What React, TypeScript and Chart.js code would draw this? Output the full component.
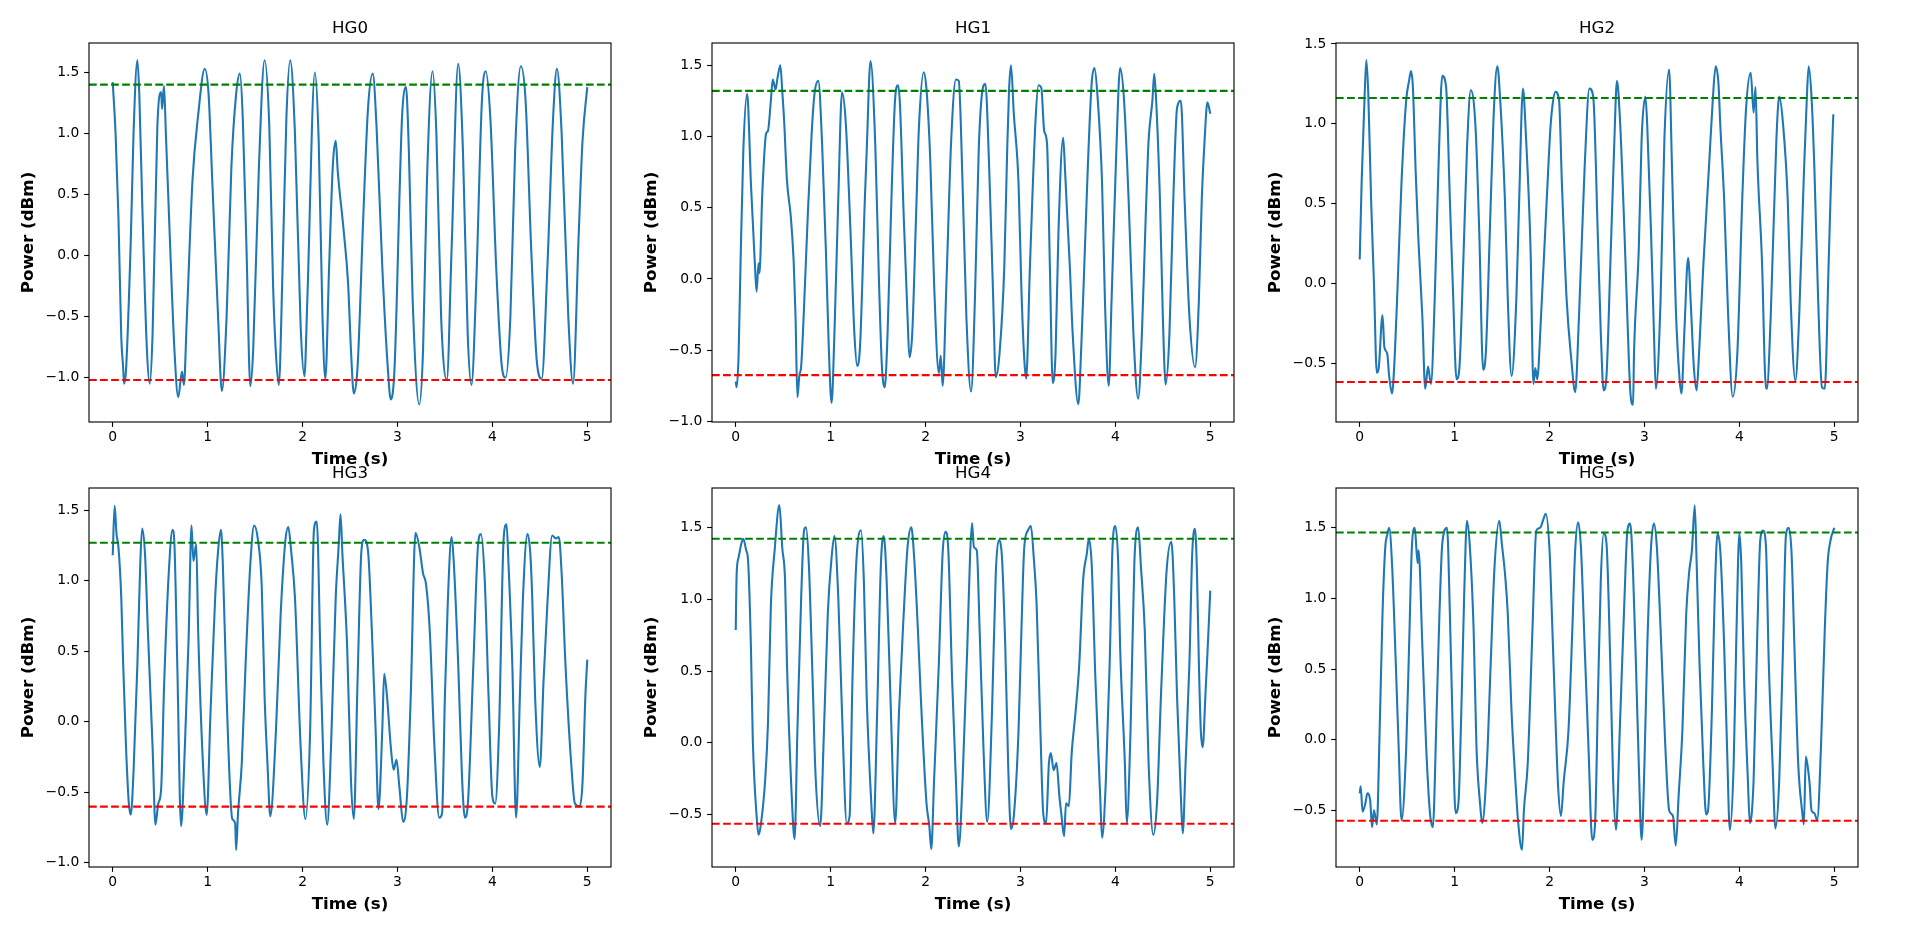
import React, { useEffect, useRef } from "react";
import { Chart, registerables } from "chart.js";

Chart.register(...registerables);
Chart.defaults.font.family = "'DejaVu Sans', sans-serif";
Chart.defaults.color = "#000";

type Pt = [number, number];

// ---------------- data ----------------
const panelTitles = ["HG0", "HG1", "HG2", "HG3", "HG4", "HG5"];
const timeTicks = [0, 1, 2, 3, 4, 5];
const timeLimits = [-0.25, 5.25];

const ticksA = [-1.0, -0.5, 0.0, 0.5, 1.0, 1.5];
const ticksB = [-0.5, 0.0, 0.5, 1.0, 1.5];
const powerTicks = [ticksA, ticksA, ticksB, ticksA, ticksB, ticksB];
const powerLimits = [
  [-1.364, 1.741],
  [-1.004, 1.656],
  [-0.868, 1.506],
  [-1.03, 1.657],
  [-0.864, 1.774],
  [-0.902, 1.782],
];
const upperLevels = [1.4, 1.32, 1.162, 1.269, 1.421, 1.467];
const lowerLevels = [-1.02, -0.675, -0.617, -0.602, -0.5625, -0.575];

const hg0: Pt[] = [
  [0, 1.42], [0.03, 1.0], [0.06, 0.32], [0.09, -0.67], [0.11, -0.92], [0.12, -1.05], [0.14, -0.94], [0.19, 0.12],
  [0.22, 1.02], [0.26, 1.6], [0.28, 1.32], [0.31, 0.45], [0.36, -0.77], [0.39, -1.05], [0.42, -0.64], [0.47, 1.05],
  [0.51, 1.34], [0.52, 1.2], [0.54, 1.39], [0.56, 1.0], [0.6, 0.18], [0.65, -0.77], [0.69, -1.16], [0.73, -0.95],
  [0.75, -1.06], [0.78, -0.53], [0.84, 0.61], [0.9, 1.15], [0.97, 1.53], [1.01, 1.32], [1.05, 0.59], [1.11, -0.5],
  [1.15, -1.11], [1.2, -0.5], [1.25, 0.72], [1.3, 1.32], [1.34, 1.49], [1.37, 1.13], [1.41, 0.04], [1.45, -1.07],
  [1.48, -0.77], [1.54, 0.72], [1.6, 1.6], [1.65, 1.05], [1.69, -0.26], [1.72, -0.81], [1.75, -1.06], [1.79, -0.09],
  [1.83, 1.13], [1.87, 1.6], [1.92, 1.0], [1.98, -0.58], [2.02, -0.99], [2.05, -0.37], [2.13, 1.5], [2.17, 0.94],
  [2.21, -0.5], [2.24, -1.01], [2.28, -0.09], [2.32, 0.75], [2.35, 0.94], [2.37, 0.7], [2.43, 0.23], [2.48, -0.23],
  [2.51, -0.77], [2.54, -1.13], [2.58, -0.91], [2.64, 0.32], [2.69, 1.21], [2.74, 1.49], [2.78, 1.05], [2.84, -0.09],
  [2.9, -0.94], [2.93, -1.18], [2.97, -0.91], [3.03, 0.72], [3.05, 1.16], [3.09, 1.38], [3.12, 0.86], [3.16, -0.36],
  [3.23, -1.22], [3.27, -0.77], [3.31, 0.59], [3.37, 1.51], [3.41, 1.0], [3.46, -0.5], [3.52, -1.02], [3.57, 0.04],
  [3.64, 1.57], [3.69, 0.86], [3.74, -0.64], [3.78, -1.06], [3.83, -0.23], [3.89, 1.27], [3.93, 1.51], [3.98, 1.11],
  [4.04, -0.09], [4.1, -0.91], [4.14, -1.0], [4.19, -0.5], [4.24, 0.86], [4.3, 1.55], [4.35, 1.27], [4.41, 0.04],
  [4.47, -0.88], [4.52, -1.01], [4.58, -0.09], [4.64, 1.13], [4.68, 1.53], [4.73, 1.0], [4.8, -0.5], [4.85, -1.05],
  [4.91, 0.18], [4.95, 0.94], [5.0, 1.38],
];

const hg1: Pt[] = [
  [0, -0.72], [0.01, -0.76], [0.03, -0.54], [0.05, 0.09], [0.08, 0.9], [0.12, 1.3], [0.13, 1.23], [0.16, 0.67],
  [0.2, 0.13], [0.22, -0.09], [0.24, 0.11], [0.25, 0.04], [0.28, 0.6], [0.32, 1.02], [0.34, 1.04], [0.37, 1.25],
  [0.39, 1.4], [0.42, 1.33], [0.44, 1.41], [0.47, 1.5], [0.49, 1.32], [0.51, 1.11], [0.54, 0.69], [0.58, 0.44],
  [0.61, 0.13], [0.63, -0.26], [0.65, -0.83], [0.67, -0.68], [0.69, -0.61], [0.73, -0.03], [0.76, 0.46], [0.8, 1.02],
  [0.83, 1.3], [0.87, 1.39], [0.91, 0.95], [0.95, 0.2], [0.98, -0.47], [1.01, -0.87], [1.04, -0.38], [1.08, 0.55],
  [1.12, 1.31], [1.16, 1.09], [1.21, 0.32], [1.25, -0.38], [1.28, -0.61], [1.31, -0.47], [1.36, 0.55], [1.38, 0.9],
  [1.42, 1.53], [1.47, 0.95], [1.51, -0.03], [1.54, -0.61], [1.57, -0.76], [1.6, -0.38], [1.64, 0.55], [1.68, 1.27],
  [1.71, 1.36], [1.73, 1.23], [1.77, 0.44], [1.81, -0.26], [1.83, -0.55], [1.86, -0.38], [1.9, 0.44], [1.93, 1.06],
  [1.98, 1.45], [2.01, 1.33], [2.05, 0.83], [2.09, -0.03], [2.14, -0.66], [2.16, -0.54], [2.18, -0.75], [2.22, -0.03],
  [2.27, 0.97], [2.32, 1.4], [2.35, 1.39], [2.39, 0.67], [2.43, -0.26], [2.48, -0.79], [2.52, -0.15], [2.56, 0.9],
  [2.59, 1.27], [2.63, 1.37], [2.67, 0.79], [2.71, -0.07], [2.74, -0.69], [2.78, -0.52], [2.83, 0.09], [2.86, 0.9],
  [2.88, 1.33], [2.9, 1.5], [2.93, 1.16], [2.98, 0.67], [3.01, -0.07], [3.04, -0.56], [3.06, -0.7], [3.1, 0.09],
  [3.16, 1.13], [3.19, 1.36], [3.22, 1.34], [3.25, 1.04], [3.28, 0.95], [3.31, 0.09], [3.34, -0.73], [3.37, -0.52],
  [3.4, 0.32], [3.45, 0.99], [3.47, 0.76], [3.49, 0.48], [3.52, 0.09], [3.55, -0.38], [3.61, -0.88], [3.64, -0.49],
  [3.67, 0.04], [3.71, 0.79], [3.75, 1.37], [3.78, 1.48], [3.81, 1.3], [3.86, 0.67], [3.89, -0.15], [3.93, -0.75],
  [3.96, -0.15], [4.01, 0.9], [4.05, 1.48], [4.09, 1.27], [4.14, 0.55], [4.19, -0.38], [4.24, -0.84], [4.28, -0.38],
  [4.32, 0.44], [4.35, 0.97], [4.39, 1.25], [4.41, 1.44], [4.43, 1.25], [4.47, 0.55], [4.5, -0.26], [4.53, -0.74],
  [4.57, -0.38], [4.61, 0.55], [4.65, 1.2], [4.69, 1.25], [4.73, 0.55], [4.78, -0.26], [4.84, -0.62], [4.88, -0.15],
  [4.91, 0.55], [4.94, 0.97], [4.97, 1.24], [5.0, 1.16],
];

const hg2: Pt[] = [
  [0, 0.15], [0.02, 0.63], [0.05, 1.15], [0.07, 1.4], [0.09, 1.19], [0.12, 0.52], [0.15, 0.0], [0.18, -0.56],
  [0.2, -0.53], [0.24, -0.2], [0.26, -0.4], [0.29, -0.44], [0.31, -0.58], [0.34, -0.69], [0.37, -0.44], [0.4, 0.0],
  [0.44, 0.63], [0.49, 1.15], [0.52, 1.27], [0.54, 1.33], [0.56, 1.23], [0.59, 0.69], [0.62, 0.25], [0.66, -0.21],
  [0.69, -0.66], [0.72, -0.52], [0.75, -0.63], [0.79, -0.1], [0.83, 0.73], [0.87, 1.3], [0.91, 1.23], [0.95, 0.52],
  [0.98, 0.0], [1.02, -0.6], [1.05, -0.53], [1.09, 0.11], [1.13, 0.84], [1.17, 1.21], [1.22, 0.98], [1.26, 0.31],
  [1.3, -0.54], [1.33, -0.42], [1.37, 0.31], [1.41, 1.04], [1.45, 1.36], [1.48, 1.15], [1.53, 0.52], [1.56, -0.1],
  [1.6, -0.58], [1.65, -0.1], [1.68, 0.52], [1.72, 1.22], [1.75, 0.94], [1.8, 0.21], [1.83, -0.63], [1.85, -0.53],
  [1.87, -0.6], [1.91, -0.21], [1.97, 0.52], [2.01, 0.98], [2.03, 1.11], [2.06, 1.2], [2.1, 1.15], [2.13, 0.63],
  [2.18, -0.1], [2.23, -0.48], [2.27, -0.68], [2.31, -0.21], [2.37, 0.73], [2.42, 1.22], [2.46, 1.17], [2.51, 0.27],
  [2.54, -0.31], [2.57, -0.67], [2.6, -0.58], [2.64, 0.11], [2.68, 0.84], [2.71, 1.27], [2.74, 1.05], [2.79, 0.31],
  [2.82, -0.21], [2.85, -0.67], [2.88, -0.76], [2.89, -0.44], [2.94, 0.21], [2.97, 0.9], [3.01, 1.17], [3.03, 0.98],
  [3.07, 0.31], [3.1, -0.31], [3.12, -0.66], [3.17, -0.1], [3.21, 0.9], [3.26, 1.34], [3.29, 0.73], [3.33, -0.15],
  [3.37, -0.6], [3.39, -0.69], [3.42, -0.31], [3.46, 0.16], [3.49, -0.15], [3.52, -0.52], [3.55, -0.67], [3.57, -0.5],
  [3.62, 0.11], [3.68, 0.73], [3.72, 1.15], [3.75, 1.36], [3.78, 1.25], [3.8, 0.98], [3.84, 0.52], [3.88, -0.17],
  [3.93, -0.71], [3.98, -0.42], [4.03, 0.52], [4.07, 1.09], [4.12, 1.32], [4.15, 1.07], [4.17, 1.23], [4.19, 0.77],
  [4.24, 0.11], [4.27, -0.56], [4.29, -0.66], [4.33, -0.21], [4.39, 0.9], [4.42, 1.17], [4.46, 1.0], [4.51, 0.52],
  [4.54, -0.1], [4.59, -0.61], [4.63, -0.21], [4.68, 0.69], [4.71, 1.15], [4.73, 1.36], [4.76, 1.17], [4.79, 0.73],
  [4.83, -0.1], [4.87, -0.65], [4.9, -0.66], [4.94, 0.11], [4.97, 0.73], [4.99, 1.06],
];

const hg3: Pt[] = [
  [0, 1.18], [0.02, 1.53], [0.04, 1.33], [0.06, 1.24], [0.09, 0.88], [0.11, 0.41], [0.14, -0.18], [0.17, -0.58],
  [0.19, -0.66], [0.22, -0.34], [0.26, 0.41], [0.29, 1.12], [0.31, 1.37], [0.34, 1.19], [0.37, 0.65], [0.42, -0.18],
  [0.45, -0.73], [0.48, -0.58], [0.51, -0.48], [0.54, 0.23], [0.59, 1.05], [0.63, 1.36], [0.65, 1.26], [0.68, 0.41],
  [0.72, -0.74], [0.76, -0.18], [0.8, 0.6], [0.83, 1.39], [0.85, 1.14], [0.88, 1.26], [0.9, 0.65], [0.95, -0.29],
  [0.99, -0.66], [1.03, 0.06], [1.08, 0.89], [1.11, 1.21], [1.14, 1.36], [1.16, 1.12], [1.2, 0.18], [1.24, -0.53],
  [1.26, -0.69], [1.29, -0.72], [1.3, -0.91], [1.32, -0.65], [1.36, -0.29], [1.4, 0.41], [1.45, 1.12], [1.49, 1.39],
  [1.53, 1.29], [1.57, 0.96], [1.6, 0.18], [1.63, -0.29], [1.66, -0.67], [1.72, -0.06], [1.77, 0.77], [1.82, 1.29],
  [1.85, 1.38], [1.88, 1.21], [1.92, 0.88], [1.98, -0.18], [2.03, -0.69], [2.08, -0.06], [2.12, 1.36], [2.15, 1.42],
  [2.19, 0.41], [2.22, -0.29], [2.26, -0.73], [2.3, -0.18], [2.35, 0.89], [2.38, 1.24], [2.4, 1.47], [2.42, 1.19],
  [2.47, 0.53], [2.51, -0.41], [2.54, -0.69], [2.58, 0.3], [2.62, 1.21], [2.65, 1.29], [2.69, 1.21], [2.73, 0.65],
  [2.77, -0.06], [2.8, -0.62], [2.84, -0.06], [2.86, 0.34], [2.89, 0.18], [2.93, -0.18], [2.96, -0.34], [2.99, -0.27],
  [3.02, -0.46], [3.06, -0.71], [3.1, -0.53], [3.14, 0.18], [3.19, 1.34], [3.23, 1.24], [3.27, 1.05], [3.3, 0.98],
  [3.34, 0.65], [3.39, -0.18], [3.44, -0.68], [3.47, -0.65], [3.5, 0.18], [3.53, 0.84], [3.57, 1.31], [3.59, 1.17],
  [3.64, 0.41], [3.68, -0.39], [3.71, -0.68], [3.74, -0.6], [3.8, 0.41], [3.85, 1.26], [3.88, 1.33], [3.92, 1.0],
  [3.96, 0.18], [4.0, -0.53], [4.03, -0.58], [4.07, -0.06], [4.12, 1.31], [4.15, 1.4], [4.17, 1.12], [4.21, 0.41],
  [4.25, -0.68], [4.29, 0.18], [4.32, 0.84], [4.37, 1.33], [4.4, 1.19], [4.42, 0.88], [4.45, 0.18], [4.5, -0.32],
  [4.54, 0.3], [4.58, 0.84], [4.63, 1.32], [4.67, 1.3], [4.7, 1.31], [4.73, 1.05], [4.77, 0.41], [4.83, -0.29],
  [4.87, -0.58], [4.92, -0.6], [4.95, -0.43], [4.98, 0.18], [5.0, 0.44],
];

const hg4: Pt[] = [
  [0, 0.785], [0.01, 1.18], [0.03, 1.29], [0.06, 1.39], [0.08, 1.42], [0.11, 1.34], [0.13, 1.27], [0.16, 0.67],
  [0.18, 0.02], [0.22, -0.51], [0.24, -0.64], [0.26, -0.59], [0.31, -0.26], [0.34, 0.14], [0.37, 0.95], [0.41, 1.34],
  [0.46, 1.655], [0.49, 1.36], [0.52, 1.13], [0.54, 0.55], [0.59, -0.37], [0.62, -0.67], [0.65, 0.09], [0.69, 1.02],
  [0.72, 1.48], [0.74, 1.5], [0.77, 1.25], [0.81, 0.44], [0.84, -0.21], [0.89, -0.58], [0.93, 0.09], [0.97, 0.9],
  [1.01, 1.29], [1.04, 1.44], [1.08, 1.02], [1.12, 0.21], [1.17, -0.56], [1.2, -0.51], [1.23, 0.44], [1.27, 1.25],
  [1.32, 1.48], [1.35, 1.13], [1.38, 0.32], [1.43, -0.44], [1.45, -0.63], [1.49, 0.21], [1.53, 1.25], [1.56, 1.44],
  [1.59, 1.13], [1.63, 0.32], [1.68, -0.56], [1.72, 0.21], [1.77, 0.9], [1.81, 1.36], [1.85, 1.5], [1.88, 1.29],
  [1.92, 0.78], [1.95, 0.32], [2.01, -0.42], [2.04, -0.58], [2.06, -0.74], [2.09, -0.26], [2.14, 0.55], [2.18, 1.32],
  [2.21, 1.47], [2.24, 1.34], [2.28, 0.44], [2.32, -0.26], [2.35, -0.72], [2.39, -0.26], [2.44, 0.67], [2.47, 1.32],
  [2.49, 1.53], [2.51, 1.36], [2.54, 1.34], [2.57, 0.78], [2.61, -0.03], [2.65, -0.55], [2.7, 0.21], [2.74, 1.18],
  [2.77, 1.41], [2.8, 1.34], [2.84, 0.67], [2.87, -0.14], [2.9, -0.6], [2.93, -0.51], [2.98, 0.09], [3.01, 0.78],
  [3.04, 1.36], [3.08, 1.48], [3.11, 1.51], [3.14, 1.29], [3.17, 0.97], [3.21, 0.09], [3.24, -0.49], [3.27, -0.56],
  [3.3, -0.14], [3.32, -0.07], [3.35, -0.19], [3.38, -0.14], [3.41, -0.37], [3.43, -0.49], [3.46, -0.65], [3.48, -0.42],
  [3.51, -0.44], [3.54, -0.07], [3.58, 0.21], [3.62, 0.55], [3.66, 1.13], [3.7, 1.32], [3.72, 1.42], [3.75, 1.25],
  [3.79, 0.44], [3.84, -0.37], [3.86, -0.66], [3.9, -0.26], [3.94, 0.55], [3.97, 1.36], [4.0, 1.51], [4.03, 1.25],
  [4.05, 0.67], [4.1, -0.14], [4.12, -0.56], [4.16, 0.09], [4.2, 1.25], [4.24, 1.5], [4.27, 1.22], [4.31, 0.78],
  [4.35, -0.14], [4.4, -0.64], [4.44, -0.4], [4.48, 0.32], [4.54, 1.2], [4.59, 1.4], [4.62, 1.02], [4.65, 0.32],
  [4.69, -0.37], [4.71, -0.63], [4.74, -0.14], [4.78, 0.55], [4.81, 1.32], [4.84, 1.49], [4.86, 1.18], [4.88, 0.55],
  [4.9, 0.09], [4.92, -0.03], [4.95, 0.35], [4.97, 0.62], [5.0, 1.06],
];

const hg5: Pt[] = [
  [0, -0.38], [0.01, -0.33], [0.03, -0.51], [0.06, -0.45], [0.08, -0.38], [0.11, -0.43], [0.13, -0.62], [0.15, -0.5],
  [0.18, -0.6], [0.21, 0.07], [0.24, 0.89], [0.27, 1.37], [0.29, 1.45], [0.31, 1.5], [0.34, 1.25], [0.38, 0.54],
  [0.41, -0.05], [0.44, -0.57], [0.49, -0.05], [0.52, 0.66], [0.55, 1.37], [0.58, 1.5], [0.61, 1.25], [0.62, 1.34],
  [0.66, 0.66], [0.7, -0.05], [0.74, -0.52], [0.77, -0.62], [0.81, 0.19], [0.84, 0.89], [0.87, 1.39], [0.92, 1.5],
  [0.95, 0.89], [0.98, 0.07], [1.01, -0.52], [1.04, -0.45], [1.07, 0.19], [1.1, 1.01], [1.13, 1.55], [1.16, 1.37],
  [1.2, 0.78], [1.23, -0.05], [1.27, -0.47], [1.29, -0.59], [1.34, -0.17], [1.38, 0.54], [1.42, 1.22], [1.47, 1.55],
  [1.5, 1.37], [1.53, 1.18], [1.56, 0.89], [1.6, 0.19], [1.64, -0.29], [1.67, -0.59], [1.71, -0.78], [1.73, -0.5],
  [1.77, -0.17], [1.82, 0.78], [1.86, 1.48], [1.9, 1.5], [1.93, 1.55], [1.96, 1.6], [2.0, 1.34], [2.03, 0.78],
  [2.06, 0.19], [2.09, -0.33], [2.12, -0.54], [2.15, -0.29], [2.2, 0.07], [2.24, 0.78], [2.27, 1.34], [2.3, 1.54],
  [2.33, 1.37], [2.37, 0.66], [2.41, -0.05], [2.45, -0.71], [2.48, -0.59], [2.51, 0.3], [2.54, 1.13], [2.57, 1.46],
  [2.6, 1.39], [2.64, 0.54], [2.67, -0.29], [2.7, -0.64], [2.74, 0.07], [2.79, 1.01], [2.82, 1.48], [2.85, 1.53],
  [2.88, 1.18], [2.91, 0.54], [2.94, -0.17], [2.97, -0.71], [3.0, -0.17], [3.03, 0.66], [3.07, 1.37], [3.1, 1.53],
  [3.13, 1.37], [3.17, 0.78], [3.22, -0.05], [3.26, -0.5], [3.3, -0.54], [3.33, -0.75], [3.36, -0.4], [3.4, 0.07],
  [3.44, 0.89], [3.47, 1.18], [3.5, 1.34], [3.53, 1.66], [3.55, 1.25], [3.58, 0.54], [3.62, -0.17], [3.65, -0.53],
  [3.67, -0.5], [3.71, 0.19], [3.74, 1.01], [3.77, 1.46], [3.8, 1.33], [3.84, 0.66], [3.87, -0.05], [3.9, -0.64],
  [3.94, -0.17], [3.97, 0.78], [4.0, 1.46], [4.02, 1.25], [4.05, 0.42], [4.09, -0.29], [4.11, -0.59], [4.15, -0.29],
  [4.19, 0.78], [4.22, 1.41], [4.25, 1.48], [4.28, 1.37], [4.31, 0.54], [4.35, -0.17], [4.38, -0.63], [4.42, -0.29],
  [4.46, 0.66], [4.49, 1.44], [4.52, 1.5], [4.55, 1.32], [4.58, 0.66], [4.62, -0.17], [4.66, -0.5], [4.68, -0.6],
  [4.7, -0.12], [4.72, -0.19], [4.74, -0.31], [4.76, -0.5], [4.79, -0.52], [4.82, -0.57], [4.86, -0.05], [4.9, 0.78],
  [4.93, 1.25], [4.96, 1.41], [5.0, 1.5],
];

const panelSeries = [hg0, hg1, hg2, hg3, hg4, hg5];

// ---------------- layout ----------------
const AX_LEFTS = [89, 712, 1336];
const AX_TOPS = [43, 488];
const AX_W = 522;
const AX_H = 379;
const Y_AXIS_W = 70;
const X_AXIS_H = 48;
const TITLE_H = 24;
const PAD_R = 12;

const PT = 100 / 72;
const TICK_FONT = 10 * PT;
const LABEL_FONT = 12 * PT;

const framePlugin = {
  id: "axesFrame",
  afterDraw(chart: any) {
    const { ctx, chartArea: a } = chart;
    ctx.save();
    ctx.strokeStyle = "#000";
    ctx.lineWidth = 0.8 * PT;
    ctx.strokeRect(a.left, a.top, a.right - a.left, a.bottom - a.top);
    ctx.restore();
  },
};

const fmtPower = (v: number) => (v < 0 ? "\u2212" : "") + Math.abs(v).toFixed(1);

function Panel({ index }: { index: number }) {
  const ref = useRef<HTMLCanvasElement>(null);
  const col = index % 3;
  const row = Math.floor(index / 3);
  const left = AX_LEFTS[col] - Y_AXIS_W;
  const top = AX_TOPS[row] - TITLE_H;
  const width = Y_AXIS_W + AX_W + PAD_R;
  const height = TITLE_H + AX_H + X_AXIS_H;

  useEffect(() => {
    const canvas = ref.current;
    if (!canvas) return;
    const lw = 1.5 * PT;
    const dash = [3.7 * 1.5 * PT, 1.6 * 1.5 * PT];
    const tickGrid = {
      display: true,
      drawOnChartArea: false,
      drawTicks: true,
      tickLength: 3.5 * PT,
      tickColor: "#000",
      tickWidth: 0.8 * PT,
    };
    const chart = new Chart(canvas, {
      type: "line",
      data: {
        datasets: [
          {
            data: timeLimits.map((x) => ({ x, y: upperLevels[index] })),
            borderColor: "#008000",
            borderWidth: lw,
            borderDash: dash,
            pointRadius: 0,
            tension: 0,
          },
          {
            data: timeLimits.map((x) => ({ x, y: lowerLevels[index] })),
            borderColor: "#ff0000",
            borderWidth: lw,
            borderDash: dash,
            pointRadius: 0,
            tension: 0,
          },
          {
            data: panelSeries[index].map(([x, y]) => ({ x, y })),
            borderColor: "#1f77b4",
            borderWidth: lw,
            borderJoinStyle: "round",
            pointRadius: 0,
            cubicInterpolationMode: "monotone",
          },
        ],
      },
      options: {
        animation: false,
        responsive: false,
        events: [],
        layout: { padding: { left: 0, right: PAD_R, top: 0, bottom: 0 } },
        plugins: {
          legend: { display: false },
          tooltip: { enabled: false },
          title: {
            display: true,
            fullSize: false,
            text: panelTitles[index],
            color: "#000",
            font: { size: LABEL_FONT, weight: "normal", lineHeight: "20px" },
            padding: { top: 0, bottom: 4 },
          },
        },
        scales: {
          x: {
            type: "linear",
            min: timeLimits[0],
            max: timeLimits[1],
            bounds: "data",
            afterBuildTicks: (s: any) => {
              s.ticks = timeTicks.map((value) => ({ value }));
            },
            afterFit: (s: any) => {
              s.height = X_AXIS_H;
            },
            ticks: {
              autoSkip: false,
              maxRotation: 0,
              padding: 2.3,
              color: "#000",
              font: { size: TICK_FONT },
              callback: (v: any) => String(v),
            },
            grid: tickGrid,
            border: { display: false },
            title: {
              display: true,
              text: "Time (s)",
              color: "#000",
              font: { size: LABEL_FONT, weight: "bold", lineHeight: "20px" },
              padding: { top: 0, bottom: 0.5 },
            },
          },
          y: {
            type: "linear",
            min: powerLimits[index][0],
            max: powerLimits[index][1],
            bounds: "data",
            afterBuildTicks: (s: any) => {
              s.ticks = powerTicks[index].map((value) => ({ value }));
            },
            afterFit: (s: any) => {
              s.width = Y_AXIS_W;
            },
            ticks: {
              autoSkip: false,
              padding: 3.5 * PT,
              color: "#000",
              font: { size: TICK_FONT },
              callback: (v: any) => fmtPower(Number(v)),
            },
            grid: tickGrid,
            border: { display: false },
            title: {
              display: true,
              text: "Power (dBm)",
              color: "#000",
              font: { size: LABEL_FONT, weight: "bold", lineHeight: "20px" },
              padding: { top: 0, bottom: 0 },
            },
          },
        },
      },
      plugins: [framePlugin],
    } as any);
    return () => chart.destroy();
  }, [index]);

  return (
    <canvas
      ref={ref}
      width={width}
      height={height}
      style={{ position: "absolute", left, top, width, height, display: "block" }}
    />
  );
}

export default function App() {
  return (
    <div
      style={{
        position: "absolute",
        left: 0,
        top: 0,
        width: 1920,
        height: 927,
        background: "#fff",
        overflow: "hidden",
      }}
    >
      {panelTitles.map((t, i) => (
        <Panel key={t} index={i} />
      ))}
    </div>
  );
}
